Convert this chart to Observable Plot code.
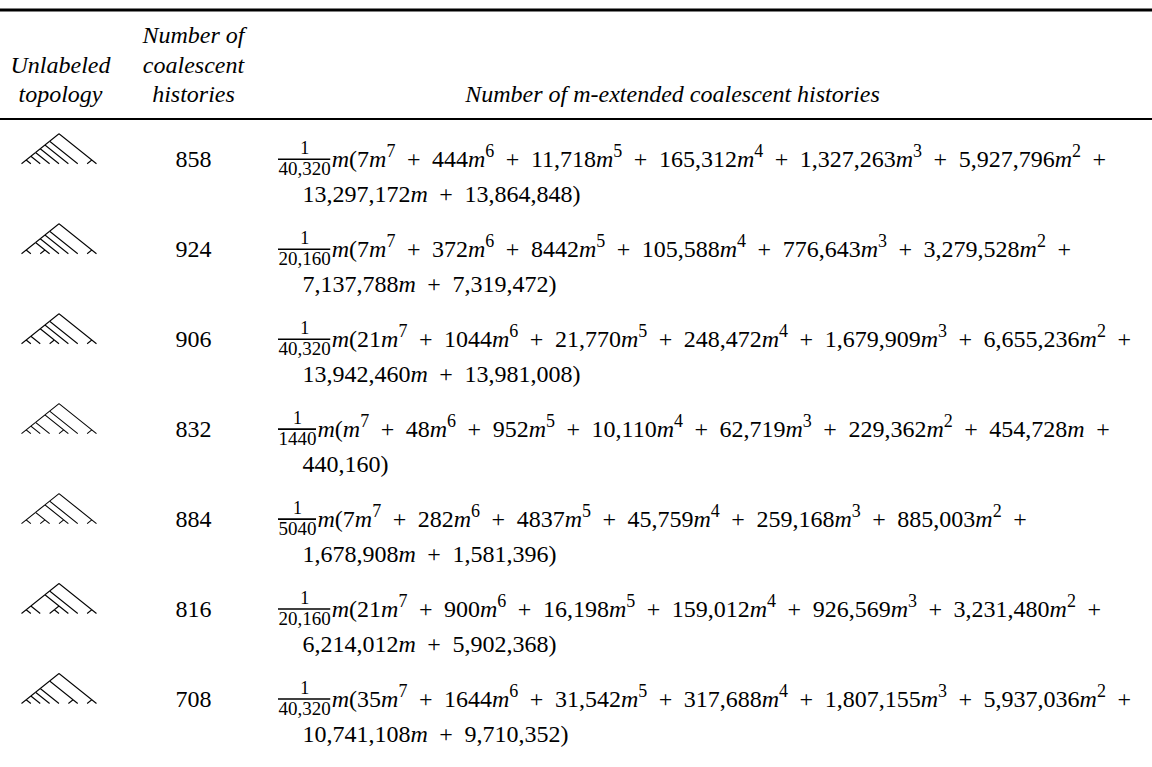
<!DOCTYPE html>
<html><head><meta charset="utf-8">
<script src="https://cdn.jsdelivr.net/npm/d3@7"></script>
<script src="https://cdn.jsdelivr.net/npm/@observablehq/plot@0.6"></script>
<style>
html,body{margin:0;padding:0;background:#fff;}
#chart{width:1152px;height:767px;overflow:hidden;}
</style></head><body><div id="chart"></div>
<script>
// ---------------- data ----------------
// unlabeled topologies (Newick, * = leaf)
const topologies = [
  "(((((((*,*),*),*),*),*),*),(*,*))",
  "((((((*,*),(*,*)),*),*),*),(*,*))",
  "((((((*,*),*),(*,*)),*),*),(*,*))",
  "((((((*,*),*),*),(*,*)),*),(*,*))",
  "(((((*,*),(*,*)),(*,*)),*),(*,*))",
  "(((((*,*),*),((*,*),*)),*),(*,*))",
  "((((((*,*),*),*),*),(*,*)),(*,*))"
];
const histories = [858, 924, 906, 832, 884, 816, 708];
const denominators = [40320, 20160, 40320, 1440, 5040, 20160, 40320];
// coefficients of m^7 ... m^0
const coef1 = [7, 444, 11718, 165312, 1327263, 5927796, 13297172, 13864848];
const coef2 = [7, 372, 8442, 105588, 776643, 3279528, 7137788, 7319472];
const coef3 = [21, 1044, 21770, 248472, 1679909, 6655236, 13942460, 13981008];
const coef4 = [1, 48, 952, 10110, 62719, 229362, 454728, 440160];
const coef5 = [7, 282, 4837, 45759, 259168, 885003, 1678908, 1581396];
const coef6 = [21, 900, 16198, 159012, 926569, 3231480, 6214012, 5902368];
const coef7 = [35, 1644, 31542, 317688, 1807155, 5937036, 10741108, 9710352];
const coefficients = [coef1, coef2, coef3, coef4, coef5, coef6, coef7];
const headerTopology = ["Unlabeled", "topology"];
const headerHistories = ["Number of", "coalescent", "histories"];
const headerFormula = ["Number of m-extended coalescent histories"];

// ---------------- layout ----------------
const FONT = '"Liberation Serif","Times New Roman",Times,serif';
const L = {
  width: 1152, height: 767,
  ruleTop: 9.5, ruleHead: 118.5,
  headBase: [42, 72, 101],
  colTree: 60, colHist: 193, colFormula: 278, formulaHeadX: 672,
  row0: 166.3, rowStep: 89.95, line2dy: 35, indent: 24,
  treeL: 21, treeR: 96, treeH: 30, treeDrop: 3,
  font: 24, fracFont: 19, numFont: 18, supFont: 18, supRise: 9.5,
  barDy: -7.5, numDy: -12.5, denDy: 8, plusGap: 11.5, maxRight: 1150
};
const baseY = i => L.row0 + i * L.rowStep;

const ctx = document.createElement("canvas").getContext("2d");
function tw(s, size, italic) {
  ctx.font = `${italic ? "italic " : ""}${size}px ${FONT}`;
  return ctx.measureText(s).width;
}
const fmt = n => n >= 10000 ? d3.format(",")(n) : String(n);

// parse Newick into nested arrays
function parseNewick(s) {
  let p = 0;
  function node() {
    if (s[p] === "(") {
      p++;
      const kids = [node()];
      while (s[p] === ",") { p++; kids.push(node()); }
      p++; // ")"
      return kids;
    }
    p++; return null;
  }
  return node();
}
function layoutTree(t) {
  let leaf = 0; const edges = [];
  (function rec(n) {
    if (n === null) { const i = leaf++; return {lo: i, hi: i}; }
    const kids = n.map(rec);
    const me = {lo: kids[0].lo, hi: kids[kids.length - 1].hi};
    kids.forEach(k => edges.push({p: me, c: k}));
    return me;
  })(t);
  return {edges, n: leaf};
}

const treeEdges = [];
topologies.forEach((nw, i) => {
  const {edges, n} = layoutTree(parseNewick(nw));
  const sp = (L.treeR - L.treeL) / (n - 1);
  const k = L.treeH / ((n - 1) / 2 * sp);
  const bottom = baseY(i) - L.treeDrop;
  const px = v => L.treeL + (v.lo + v.hi) / 2 * sp;
  const py = v => bottom - (v.hi - v.lo) / 2 * sp * k;
  edges.forEach(e => treeEdges.push({x1: px(e.p), y1: py(e.p), x2: px(e.c), y2: py(e.c)}));
});

// formula markup pieces
function pieces(markup) {
  return markup.split(/( \+ ?|m|\^\d)/).filter(s => s !== "").map(s => {
    if (s === " + ") return {text: "+", before: L.plusGap, after: L.plusGap};
    if (s === " +") return {text: "+", before: L.plusGap};
    if (s === "m") return {text: "m", italic: true};
    if (s[0] === "^") return {text: s.slice(1), sup: true};
    return {text: s};
  });
}
function mw(markup) {
  return d3.sum(pieces(markup), p => (p.before || 0) + (p.after || 0) +
    tw(p.text, p.sup ? L.supFont : L.font, p.italic));
}

const fracs = denominators.map((d, i) => {
  const den = fmt(d);
  return {i, den, x0: L.colFormula, w: tw(den, L.fracFont)};
});

const formulaLines = [];
coefficients.forEach((cs, i) => {
  const terms = cs.map((c, j) => {
    const pw = 7 - j;
    return (c === 1 && pw > 0 ? "" : fmt(c)) + (pw > 1 ? "m^" + pw : pw === 1 ? "m" : "");
  });
  terms[terms.length - 1] += ")";
  const startX = L.colFormula + fracs[i].w + 1;
  let x0 = startX, cur = "m(" + terms[0], line = 0;
  for (let j = 1; j < terms.length; j++) {
    const trial = cur + " + " + terms[j] + (j < terms.length - 1 ? " +" : "");
    if (x0 + mw(trial) <= L.maxRight) cur = cur + " + " + terms[j];
    else {
      formulaLines.push({x: x0, y: baseY(i) + line * L.line2dy, text: cur + " +"});
      line++; x0 = L.colFormula + L.indent; cur = terms[j];
    }
  }
  formulaLines.push({x: x0, y: baseY(i) + line * L.line2dy, text: cur});
});
const formulaSet = new Set(formulaLines.map(d => d.text));

// ---------------- plot ----------------
const chart = Plot.plot({
  width: L.width, height: L.height, margin: 0,
  x: {type: "linear", domain: [0, L.width], range: [0, L.width], axis: null},
  y: {type: "linear", domain: [0, L.height], range: [0, L.height], axis: null},
  style: {fontFamily: FONT, fontSize: "24px", background: "#fff", color: "#000"},
  marks: [
    Plot.ruleY([L.ruleTop], {stroke: "#000", strokeWidth: 3}),
    Plot.ruleY([L.ruleHead], {stroke: "#000", strokeWidth: 2.2}),
    Plot.text(headerTopology, {x: () => L.colTree, y: (d, i) => L.headBase[i + 1], text: d => d,
      fontStyle: "italic", lineAnchor: "bottom", fontSize: L.font}),
    Plot.text(headerHistories, {x: () => L.colHist, y: (d, i) => L.headBase[i], text: d => d,
      fontStyle: "italic", lineAnchor: "bottom", fontSize: L.font}),
    Plot.text(headerFormula, {x: () => L.formulaHeadX, y: () => L.headBase[2], text: d => d,
      fontStyle: "italic", lineAnchor: "bottom", fontSize: L.font}),
    Plot.link(treeEdges, {x1: "x1", y1: "y1", x2: "x2", y2: "y2", stroke: "#000", strokeWidth: 1.1}),
    Plot.text(histories, {x: () => L.colHist, y: (d, i) => baseY(i), text: d => String(d),
      lineAnchor: "bottom", fontSize: L.font}),
    Plot.text(fracs, {x: d => d.x0 + d.w / 2, y: d => baseY(d.i) + L.numDy, text: () => "1",
      lineAnchor: "bottom", fontSize: L.numFont}),
    Plot.ruleY(fracs, {x1: d => d.x0, x2: d => d.x0 + d.w, y: d => baseY(d.i) + L.barDy,
      stroke: "#000", strokeWidth: 1.6}),
    Plot.text(fracs, {x: d => d.x0 + d.w / 2, y: d => baseY(d.i) + L.denDy, text: d => d.den,
      lineAnchor: "bottom", fontSize: L.fracFont}),
    Plot.text(formulaLines, {x: "x", y: "y", text: "text", textAnchor: "start",
      lineAnchor: "bottom", fontSize: L.font})
  ]
});

// rich text: italic m and superscript exponents
chart.querySelectorAll("text").forEach(el => {
  const markup = el.textContent;
  if (!formulaSet.has(markup)) return;
  el.textContent = "";
  let pending = 0, raised = false;
  for (const p of pieces(markup)) {
    const ts = document.createElementNS("http://www.w3.org/2000/svg", "tspan");
    ts.textContent = p.text;
    const dx = pending + (p.before || 0);
    pending = p.after || 0;
    if (dx) ts.setAttribute("dx", dx);
    if (p.sup && !raised) { ts.setAttribute("dy", -L.supRise); raised = true; }
    else if (!p.sup && raised) { ts.setAttribute("dy", L.supRise); raised = false; }
    if (p.sup) ts.setAttribute("font-size", L.supFont);
    if (p.italic) ts.setAttribute("font-style", "italic");
    el.appendChild(ts);
  }
});
document.getElementById("chart").appendChild(chart);
</script>
</body></html>
